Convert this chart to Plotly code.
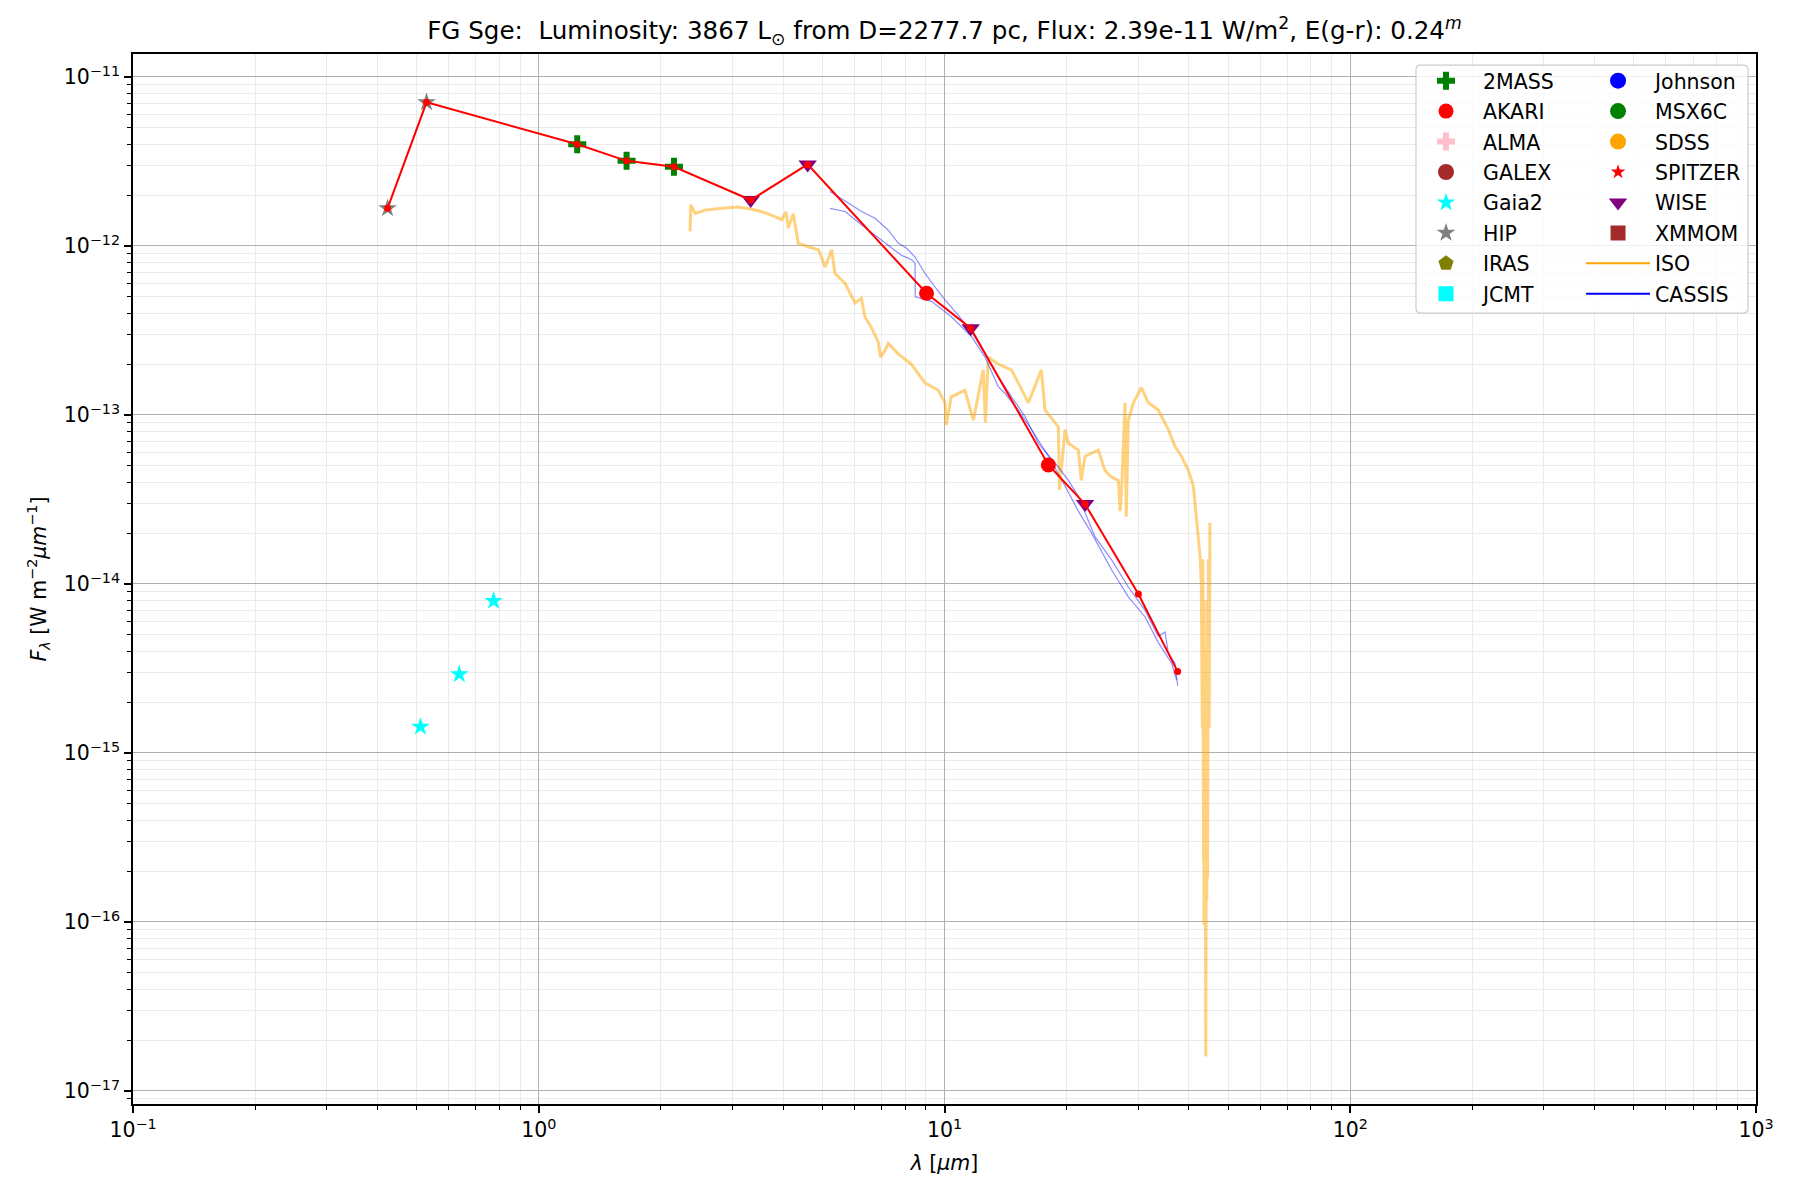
import plotly.graph_objects as go

# SED of FG Sge
# wavelength in micron, F_lambda in W m^-2 um^-1

hip_wl = [0.424, 0.529]
hip_flux = [1.67e-12, 7.08e-12]

tmass_wl = [1.244, 1.646, 2.154]
tmass_flux = [4.00e-12, 3.19e-12, 2.94e-12]

wise_wl = [3.33, 4.60, 11.6, 22.2]
wise_flux = [1.87e-12, 3.04e-12, 3.26e-13, 2.97e-14]

akari_wl = [9.03, 18.03]
akari_flux = [5.25e-13, 5.06e-14]

gaia_wl = [0.511, 0.637, 0.774]
gaia_flux = [1.43e-15, 2.92e-15, 7.94e-15]

# the two points at the end of the red SED line with no catalogue marker
extra_wl = [30.05, 37.55]
extra_flux = [8.73e-15, 3.03e-15]

# ISO spectrum (noisy, traced by hand)
iso_wl = [2.36, 2.37, 2.43, 2.57, 2.82, 3.10, 3.35, 3.54, 3.82, 3.97,
          4.07, 4.12, 4.24, 4.36, 4.62, 4.89, 5.08, 5.27, 5.37, 5.69,
          6.02, 6.24, 6.37, 6.60, 6.87, 6.95, 7.13, 7.27, 7.69, 8.28,
          8.95, 9.65, 10.03, 10.1, 10.39, 11.23, 11.78, 12.32, 12.46, 12.61,
          12.82, 13.57, 14.61, 15.20, 16.09, 17.33, 17.69, 19.08, 19.2, 19.82,
          20.2, 21.37, 21.73, 22.20, 23.93, 24.86, 25.77, 26.82, 27.08, 27.28,
          27.59, 27.86, 28.05, 28.38, 29.2, 30.05, 30.55, 31.80, 33.65, 35.61,
          37.0, 38.35, 39.9, 41.05, 41.76, 42.24, 42.65, 42.95, 43.2, 43.3,
          43.5, 43.55, 43.6, 43.85, 43.9, 44.0, 44.05, 44.2, 44.3, 44.4,
          44.5, 44.7, 44.9, 45.1]
iso_flux = [1.22e-12, 1.75e-12, 1.56e-12, 1.63e-12, 1.67e-12, 1.70e-12, 1.65e-12, 1.60e-12, 1.49e-12, 1.43e-12,
            1.59e-12, 1.28e-12, 1.55e-12, 1.04e-12, 9.9e-13, 9.5e-13, 7.5e-13, 9.5e-13, 6.9e-13, 6.0e-13,
            4.6e-13, 4.9e-13, 3.8e-13, 3.3e-13, 2.7e-13, 2.2e-13, 2.4e-13, 2.65e-13, 2.3e-13, 2.0e-13,
            1.55e-13, 1.4e-13, 1.18e-13, 8.7e-14, 1.28e-13, 1.4e-13, 9.3e-14, 1.55e-13, 1.85e-13, 9.0e-14,
            2.2e-13, 2.0e-13, 1.85e-13, 1.55e-13, 1.18e-13, 1.85e-13, 1.07e-13, 8.5e-14, 3.6e-14, 8.2e-14,
            6.8e-14, 6.2e-14, 4.1e-14, 5.7e-14, 6.2e-14, 4.7e-14, 4.3e-14, 4.1e-14, 2.7e-14, 3.3e-14,
            7.5e-14, 1.18e-13, 2.5e-14, 9.3e-14, 1.18e-13, 1.35e-13, 1.45e-13, 1.18e-13, 1.07e-13, 8.2e-14,
            6.5e-14, 5.7e-14, 4.7e-14, 3.8e-14, 2.4e-14, 1.9e-14, 1.45e-14, 1.0e-14, 1.4e-15, 1.4e-14,
            2.3e-16, 8.0e-15, 9.6e-17, 4.1e-15, 3.2e-17, 2.1e-15, 1.6e-17, 5.3e-16, 1.35e-16, 8.0e-15,
            1.8e-16, 1.4e-14, 1.4e-15, 2.3e-14]

# CASSIS (Spitzer IRS) spectra, two overlapping segments
cassis1_wl = [5.22, 5.79, 6.25, 6.74, 7.27, 7.69, 8.07, 8.46, 8.95, 9.48,
              10.03, 10.81, 11.67, 12.58, 13.57, 14.63, 15.79, 17.03, 18.73, 20.2,
              21.37, 23.5, 25.82, 28.38, 31.2, 33.65, 34.96, 35.61, 37.0, 37.55]
cassis1_flux = [2.10e-12, 1.79e-12, 1.60e-12, 1.46e-12, 1.24e-12, 1.04e-12, 9.7e-13, 8.6e-13, 6.9e-13, 5.7e-13,
                4.8e-13, 3.9e-13, 3.1e-13, 2.3e-13, 1.69e-13, 1.28e-13, 9.8e-14, 6.8e-14, 5.2e-14, 4.1e-14,
                3.3e-14, 1.9e-14, 1.39e-14, 9.6e-15, 7.0e-15, 4.9e-15, 5.2e-15, 3.9e-15, 3.4e-15, 2.5e-15]

cassis2_wl = [5.22, 5.69, 6.25, 6.74, 7.27, 7.84, 8.30, 8.46, 8.47, 9.29,
              10.41, 11.67, 12.58, 13.57, 14.10, 15.20, 16.39, 18.03, 19.82, 21.37,
              23.05, 25.82, 28.38, 31.2, 33.65, 36.29, 37.33]
cassis2_flux = [1.67e-12, 1.60e-12, 1.33e-12, 1.16e-12, 1.01e-12, 8.8e-13, 8.3e-13, 7.9e-13, 5.0e-13, 4.7e-13,
                3.8e-13, 2.9e-13, 2.2e-13, 1.47e-13, 1.34e-13, 1.07e-13, 8.2e-14, 5.7e-14, 3.8e-14, 2.7e-14,
                2.0e-14, 1.21e-14, 8.4e-15, 6.4e-15, 4.5e-15, 3.4e-15, 2.7e-15]

y_tickvals = [1e-17, 1e-16, 1e-15, 1e-14, 1e-13, 1e-12, 1e-11]
y_ticktext = ["10<sup>\u221217</sup>", "10<sup>\u221216</sup>", "10<sup>\u221215</sup>",
              "10<sup>\u221214</sup>", "10<sup>\u221213</sup>", "10<sup>\u221212</sup>",
              "10<sup>\u221211</sup>"]
x_tickvals = [0.1, 1, 10, 100, 1000]
x_ticktext = ["10<sup>\u22121</sup>", "10<sup>0</sup>", "10<sup>1</sup>", "10<sup>2</sup>", "10<sup>3</sup>"]

# catalogue styles, split in the two legend columns: (name, symbol, colour, size)
col1 = [("2MASS", "cross", "green", 15),
        ("AKARI", "circle", "red", 15),
        ("ALMA", "cross", "pink", 15),
        ("GALEX", "circle", "brown", 16),
        ("Gaia2", "star", "cyan", 14),
        ("HIP", "star", "gray", 14),
        ("IRAS", "pentagon", "olive", 16),
        ("JCMT", "square", "cyan", 15)]
col2 = [("Johnson", "circle", "blue", 16),
        ("MSX6C", "circle", "green", 16),
        ("SDSS", "circle", "orange", 16),
        ("SPITZER", "star", "red", 11),
        ("WISE", "triangle-down", "purple", 16),
        ("XMMOM", "square", "brown", 15)]

data = {"2MASS": (tmass_wl, tmass_flux),
        "AKARI": (akari_wl, akari_flux),
        "Gaia2": (gaia_wl, gaia_flux),
        "HIP": (hip_wl, hip_flux),
        "WISE": (wise_wl, wise_flux)}

fig = go.Figure()

# spectra first so everything else sits on top
fig.add_trace(go.Scatter(x=iso_wl, y=iso_flux, mode="lines", showlegend=False,
                         line=dict(color="rgba(255,165,0,0.5)", width=3)))
fig.add_trace(go.Scatter(x=cassis1_wl, y=cassis1_flux, mode="lines", showlegend=False,
                         line=dict(color="rgba(0,0,255,0.45)", width=1.2)))
fig.add_trace(go.Scatter(x=cassis2_wl, y=cassis2_flux, mode="lines", showlegend=False,
                         line=dict(color="rgba(0,0,255,0.45)", width=1.2)))

for legend_id, entries in (("legend", col1), ("legend2", col2)):
    for rank, (name, symbol, color, size) in enumerate(entries):
        wl, fl = data.get(name, ([None], [None]))
        fig.add_trace(go.Scatter(
            x=wl, y=fl, mode="markers", name=name,
            marker=dict(symbol=symbol, color=color, size=size),
            legend=legend_id, legendgroup=name, legendrank=rank + 1,
        ))

# line-only legend entries for the spectra
fig.add_trace(go.Scatter(x=[None], y=[None], mode="lines", name="ISO",
                         line=dict(color="orange", width=2),
                         legend="legend2", legendgroup="ISO", legendrank=7))
fig.add_trace(go.Scatter(x=[None], y=[None], mode="lines", name="CASSIS",
                         line=dict(color="blue", width=2),
                         legend="legend2", legendgroup="CASSIS", legendrank=8))

# red SED line through the photometry (Gaia left out, as in the original)
sed = sorted(zip(hip_wl + tmass_wl + wise_wl + akari_wl + extra_wl,
                 hip_flux + tmass_flux + wise_flux + akari_flux + extra_flux))
fig.add_trace(go.Scatter(x=[p[0] for p in sed], y=[p[1] for p in sed],
                         mode="lines+markers", showlegend=False,
                         line=dict(color="red", width=2),
                         marker=dict(color="red", size=7)))

title_text = ("FG Sge:\u00a0 Luminosity: 3867 L<sub>\u2299</sub> from D=2277.7 pc, "
              "Flux: 2.39e-11 W/m<sup>2</sup>, E(g-r): 0.24<sup><i>m</i></sup>")

def rounded_box(x0, y0, x1, y1, rx, ry):
    return (f"M{x0 + rx},{y0} L{x1 - rx},{y0} Q{x1},{y0} {x1},{y0 + ry} "
            f"L{x1},{y1 - ry} Q{x1},{y1} {x1 - rx},{y1} L{x0 + rx},{y1} "
            f"Q{x0},{y1} {x0},{y1 - ry} L{x0},{y0 + ry} Q{x0},{y0} {x0 + rx},{y0} Z")

axis_common = dict(
    type="log",
    showline=True, mirror=True, linecolor="black", linewidth=1.6,
    ticks="outside", ticklen=7, tickwidth=1.6, tickcolor="black",
    showgrid=True, gridcolor="#b0b0b0", gridwidth=1.4,
    zeroline=False,
    tickfont=dict(size=20.5, color="black"),
    minor=dict(ticks="outside", ticklen=4, tickwidth=1.2, tickcolor="black",
               showgrid=True, gridcolor="#ebebeb", gridwidth=1.2, dtick="D1"),
)

fig.update_layout(
    width=1800, height=1200,
    paper_bgcolor="white", plot_bgcolor="white",
    font=dict(family="DejaVu Sans", size=20.5, color="black"),
    margin=dict(l=125, r=52, t=46, b=104),
    title=dict(text=title_text, x=0.5, xref="paper", y=0.981, yref="container",
               xanchor="center", yanchor="middle", font=dict(size=24.6)),
    xaxis=dict(axis_common, range=[-1, 3], tickmode="array",
               tickvals=x_tickvals, ticktext=x_ticktext,
               title=dict(text="<i>\u03bb</i> [<i>\u03bcm</i>]", standoff=14,
                          font=dict(size=20.5))),
    yaxis=dict(axis_common, range=[-17.077, -10.864], tickmode="array",
               tickvals=y_tickvals, ticktext=y_ticktext,
               title=dict(text="<i>F</i><sub><i>\u03bb</i></sub> [W m<sup>\u22122</sup><i>\u03bcm</i><sup>\u22121</sup>]",
                          standoff=12, font=dict(size=20.5))),
    legend=dict(x=0.7862, y=0.9935, xanchor="left", yanchor="top",
                bgcolor="rgba(0,0,0,0)", borderwidth=0, tracegroupgap=0.8,
                itemwidth=64, font=dict(size=20.5)),
    legend2=dict(x=0.8922, y=0.9935, xanchor="left", yanchor="top",
                 bgcolor="rgba(0,0,0,0)", borderwidth=0, tracegroupgap=0.8,
                 itemwidth=64, font=dict(size=20.5)),
    shapes=[dict(type="path", xref="paper", yref="paper", layer="above",
                 path=rounded_box(0.7905, 0.7533, 0.9951, 0.9895, 0.003, 0.0045),
                 line=dict(color="#cccccc", width=1.2),
                 fillcolor="rgba(255,255,255,0.8)")],
)

fig.write_html("out.html")
